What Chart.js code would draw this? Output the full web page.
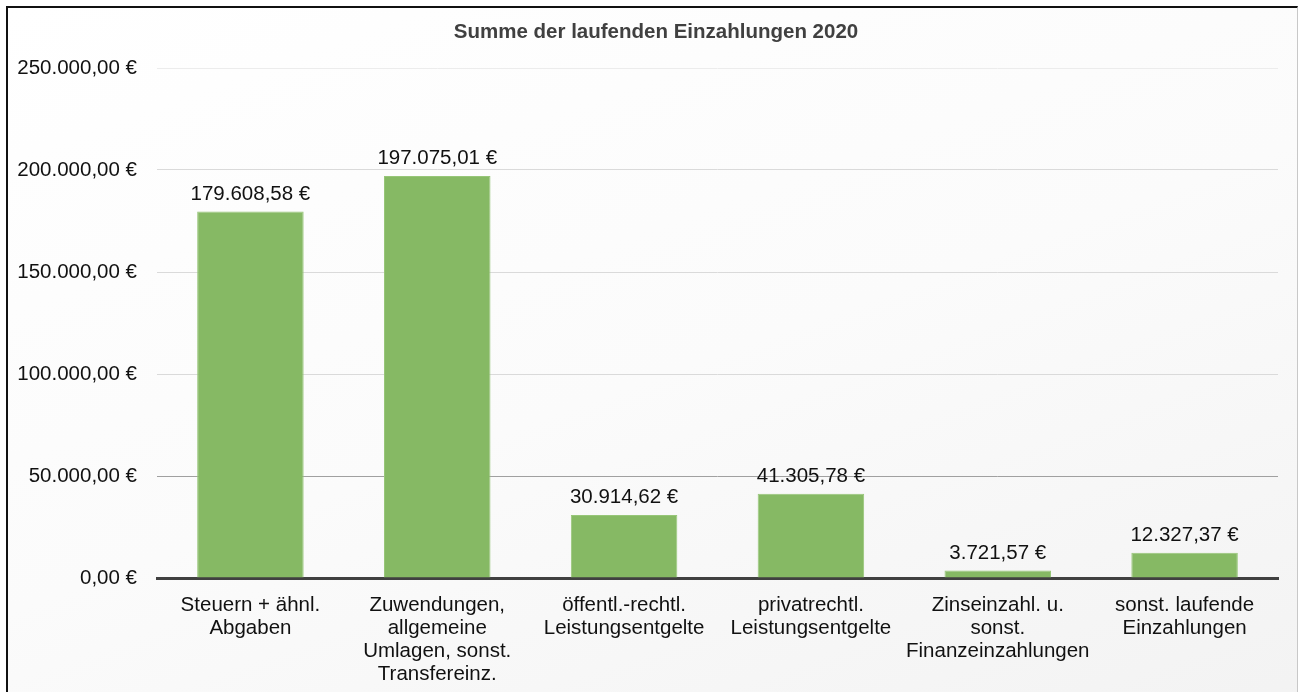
<!DOCTYPE html>
<html>
<head>
<meta charset="utf-8">
<script src="https://cdn.jsdelivr.net/npm/chart.js@4.4.0/dist/chart.umd.min.js"></script>
<style>
  html, body { margin: 0; padding: 0; overflow: hidden; background: #fff; }
  #frame {
    position: absolute; left: 6px; top: 6px; width: 1289px; height: 740px;
    border-top: 2px solid #111; border-left: 2px solid #111; border-right: 1px solid #c8c8c8;
    background: linear-gradient(160deg, #ffffff 0%, #fbfbfb 50%, #f2f2f2 100%);
  }
  #wrap { position: absolute; left: 0; top: 0; width: 1299px; height: 692px; }
</style>
</head>
<body>
<div id="frame"></div>
<div id="wrap"><canvas id="chart"></canvas></div>
<script>
const title = 'Summe der laufenden Einzahlungen 2020';
const categories = [
  ['Steuern + ähnl.', 'Abgaben'],
  ['Zuwendungen,', 'allgemeine', 'Umlagen, sonst.', 'Transfereinz.'],
  ['öffentl.-rechtl.', 'Leistungsentgelte'],
  ['privatrechtl.', 'Leistungsentgelte'],
  ['Zinseinzahl. u.', 'sonst.', 'Finanzeinzahlungen'],
  ['sonst. laufende', 'Einzahlungen']
];
const amounts = [179608.58, 197075.01, 30914.62, 41305.78, 3721.57, 12327.37];
const yTicks = [0, 50000, 100000, 150000, 200000, 250000];

const FONT = "'Liberation Sans', Arial, sans-serif";

// 179608.58 -> "179.608,58 €"
const formatEUR = (n) => {
  const [int, dec] = Number(n).toFixed(2).split('.');
  return int.replace(/\B(?=(\d{3})+(?!\d))/g, '.') + ',' + dec + ' €';
};

/* ---------- value labels above the bars + title centred on the frame ---------- */
const valueLabels = {
  id: 'valueLabels',
  afterDatasetsDraw(chart) {
    const { ctx } = chart;
    const meta = chart.getDatasetMeta(0);
    ctx.save();
    ctx.font = `20.5px ${FONT}`;
    ctx.fillStyle = '#111';
    ctx.textAlign = 'center';
    ctx.textBaseline = 'bottom';
    meta.data.forEach((bar, i) => {
      ctx.fillText(formatEUR(amounts[i]), bar.x, bar.y - 7);
    });

    ctx.font = `bold 20.5px ${FONT}`;
    ctx.fillStyle = '#404040';
    ctx.textBaseline = 'middle';
    ctx.fillText(title, 656, 32);
    ctx.restore();
  }
};

const gridColor = (ctx) => {
  const v = ctx.tick && ctx.tick.value;
  if (v === 0) return 'rgba(0,0,0,0)';
  if (v === 50000) return '#a0a0a0';
  if (v === 250000) return '#ececec';
  return '#dadada';
};

new Chart(document.getElementById('chart'), {
  type: 'bar',
  data: {
    labels: categories,
    datasets: [{
      data: amounts,
      backgroundColor: '#86b964',
      borderColor: '#97c678',
      borderWidth: 1,
      barPercentage: 0.57,
      categoryPercentage: 1
    }]
  },
  options: {
    responsive: true,
    maintainAspectRatio: false,
    animation: false,
    layout: { padding: { left: 0, right: 21, top: 68, bottom: 0 } },
    plugins: {
      legend: { display: false },
      tooltip: { enabled: false },
      title: { display: false }
    },
    scales: {
      x: {
        grid: { display: false },
        border: { color: '#404040', width: 3 },
        ticks: {
          color: '#111',
          font: { family: FONT, size: 20.5, lineHeight: 1.12 },
          padding: 8,
          maxRotation: 0,
          autoSkip: false
        },
        afterFit: (scale) => { scale.height = 114; }
      },
      y: {
        min: 0,
        max: 250000,
        afterBuildTicks: (scale) => { scale.ticks = yTicks.map(v => ({ value: v })); },
        grid: { color: gridColor, lineWidth: 1, drawTicks: false },
        border: { display: false },
        ticks: {
          color: '#111',
          font: { family: FONT, size: 20.5 },
          padding: 20,
          callback: (v) => formatEUR(v)
        },
        afterFit: (scale) => { scale.width = 157; }
      }
    }
  },
  plugins: [valueLabels]
});
</script>
</body>
</html>
